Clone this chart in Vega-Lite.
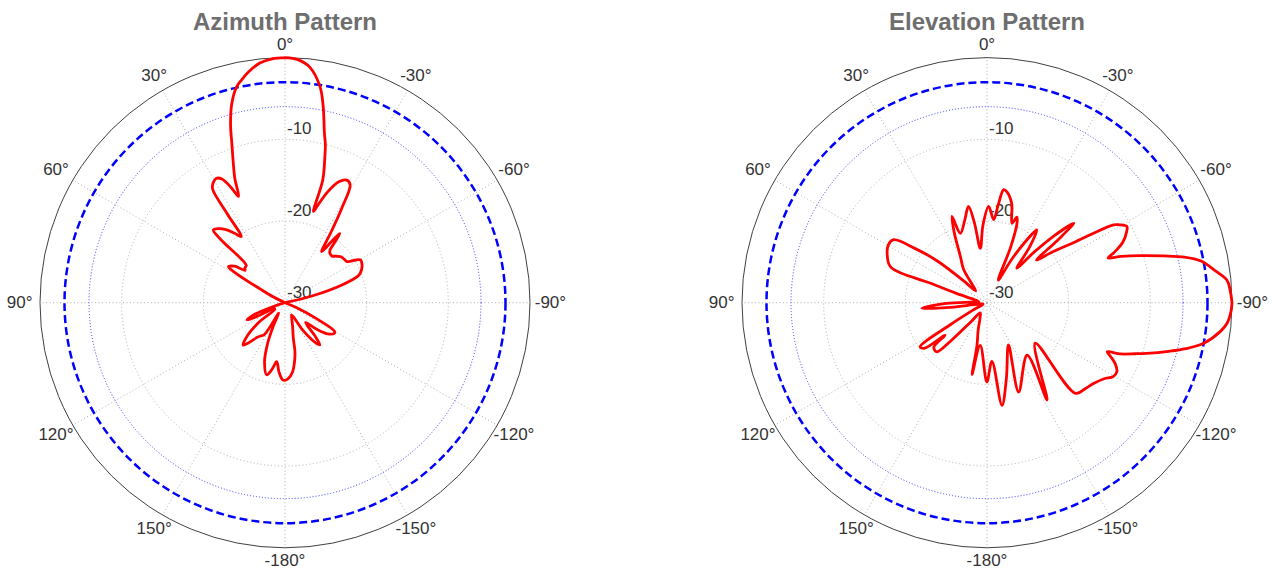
{
  "$schema": "https://vega.github.io/schema/vega-lite/v6.json",
  "padding": {"left": 0, "top": 0, "right": 0, "bottom": 0},
  "background": "white",
  "config": {"view": {"stroke": null}, "concat": {"spacing": 131}},
  "datasets": {
    "titles": [{"p": "az", "t": "Azimuth Pattern"}, {"p": "el", "t": "Elevation Pattern"}],
    "rings": [{"k": "g", "db": -20}, {"k": "g", "db": -10}, {"k": "d6", "db": -6}, {"k": "d3", "db": -3}, {"k": "o", "db": 0}],
    "spokes": [
      {"a": 0, "t": "0°"}, {"a": 30, "t": "30°"}, {"a": 60, "t": "60°"}, {"a": 90, "t": "90°"},
      {"a": 120, "t": "120°"}, {"a": 150, "t": "150°"}, {"a": 180, "t": "-180°"}, {"a": -150, "t": "-150°"},
      {"a": -120, "t": "-120°"}, {"a": -90, "t": "-90°"}, {"a": -60, "t": "-60°"}, {"a": -30, "t": "-30°"}
    ],
    "rlabels": [{"db": -30, "t": "-30"}, {"db": -20, "t": "-20"}, {"db": -10, "t": "-10"}],
    "az": [
      {"i":1,"a":0,"d":0},{"i":2,"a":3,"d":-0.1},{"i":3,"a":6,"d":-0.5},{"i":4,"a":9,"d":-1.4},{"i":5,"a":11,"d":-2.2},
      {"i":6,"a":12.6,"d":-2.9},{"i":7,"a":15,"d":-4.8},{"i":8,"a":17,"d":-7.2},{"i":9,"a":18.5,"d":-9.5},{"i":10,"a":20,"d":-11.4},
      {"i":11,"a":22,"d":-13.6},{"i":12,"a":23.6,"d":-15.8},{"i":13,"a":25,"d":-14.5},{"i":14,"a":27,"d":-13},{"i":15,"a":29,"d":-12.6},
      {"i":16,"a":31,"d":-12.9},{"i":17,"a":32.5,"d":-13.5},{"i":18,"a":33,"d":-17},{"i":19,"a":33.5,"d":-20.3},{"i":20,"a":36,"d":-19.5},
      {"i":21,"a":39,"d":-18.5},{"i":22,"a":42,"d":-17.8},{"i":23,"a":44.6,"d":-17.5},{"i":24,"a":45.5,"d":-19},{"i":25,"a":46,"d":-23.4},
      {"i":26,"a":49,"d":-23.5},{"i":27,"a":51,"d":-23.7},{"i":28,"a":54,"d":-22.4},{"i":29,"a":57.6,"d":-21.8},{"i":30,"a":59,"d":-23},
      {"i":31,"a":61,"d":-26.5},{"i":32,"a":64,"d":-28.5},{"i":33,"a":68,"d":-30},{"i":34,"a":90,"d":-30},{"i":35,"a":106,"d":-30},
      {"i":36,"a":108,"d":-28.5},{"i":37,"a":111,"d":-26},{"i":38,"a":114.3,"d":-24.9},{"i":39,"a":116,"d":-26},{"i":40,"a":119,"d":-28.5},
      {"i":41,"a":123,"d":-28.5},{"i":42,"a":127,"d":-26},{"i":43,"a":131,"d":-24},{"i":44,"a":135.4,"d":-22.7},{"i":45,"a":138,"d":-23.5},
      {"i":46,"a":141,"d":-24.5},{"i":47,"a":144,"d":-25},{"i":48,"a":147,"d":-25.3},{"i":49,"a":149,"d":-28.5},{"i":50,"a":153,"d":-27},
      {"i":51,"a":157,"d":-24.5},{"i":52,"a":161,"d":-22.3},{"i":53,"a":165.8,"d":-20.9},{"i":54,"a":169,"d":-21.7},{"i":55,"a":172,"d":-22.7},
      {"i":56,"a":175,"d":-21.5},{"i":57,"a":178,"d":-20.6},{"i":58,"a":180,"d":-20.5},{"i":59,"a":-177.5,"d":-20.7},{"i":60,"a":-174,"d":-21.4},
      {"i":61,"a":-171,"d":-22.6},{"i":62,"a":-168.5,"d":-23.9},{"i":63,"a":-166.9,"d":-25.5},{"i":64,"a":-162,"d":-27},{"i":65,"a":-156,"d":-28},
      {"i":66,"a":-151.4,"d":-28.3},{"i":67,"a":-147,"d":-26},{"i":68,"a":-143,"d":-24},{"i":69,"a":-140.4,"d":-23.3},{"i":70,"a":-138,"d":-24.5},
      {"i":71,"a":-134,"d":-26.5},{"i":72,"a":-130,"d":-25},{"i":73,"a":-126,"d":-23.5},{"i":74,"a":-122,"d":-22.9},{"i":75,"a":-120,"d":-23},
      {"i":76,"a":-117,"d":-25.5},{"i":77,"a":-113,"d":-28.5},{"i":78,"a":-108,"d":-30},{"i":79,"a":-90,"d":-30},{"i":80,"a":-80,"d":-30},
      {"i":81,"a":-76,"d":-26.5},{"i":82,"a":-72.7,"d":-22.7},{"i":83,"a":-70,"d":-20.5},{"i":84,"a":-68.6,"d":-20.1},{"i":85,"a":-64,"d":-19.5},
      {"i":86,"a":-60.3,"d":-19.4},{"i":87,"a":-57.5,"d":-20.6},{"i":88,"a":-56.4,"d":-20.9},{"i":89,"a":-54,"d":-21},{"i":90,"a":-51,"d":-21.1},
      {"i":91,"a":-48,"d":-21.5},{"i":92,"a":-45,"d":-21.9},{"i":93,"a":-42,"d":-21.8},{"i":94,"a":-40.5,"d":-21.5},{"i":95,"a":-39.3,"d":-20.2},
      {"i":96,"a":-38.4,"d":-19.2},{"i":97,"a":-37.3,"d":-20.5},{"i":98,"a":-35.7,"d":-22.3},{"i":99,"a":-33,"d":-19.5},{"i":100,"a":-31,"d":-16.5},
      {"i":101,"a":-28.9,"d":-13.5},{"i":102,"a":-26.7,"d":-13.2},{"i":103,"a":-24,"d":-13.8},{"i":104,"a":-21,"d":-15.5},{"i":105,"a":-18.5,"d":-17.5},
      {"i":106,"a":-17.3,"d":-18.3},{"i":107,"a":-17.1,"d":-14.3},{"i":108,"a":-15.5,"d":-11.8},{"i":109,"a":-14.3,"d":-10},{"i":110,"a":-13.1,"d":-8.7},
      {"i":111,"a":-11,"d":-5.5},{"i":112,"a":-9.2,"d":-3.2},{"i":113,"a":-6,"d":-1},{"i":114,"a":-3,"d":-0.2},{"i":115,"a":0,"d":0}
    ],
    "el": [
      {"i":1,"a":-90,"d":0},{"i":2,"a":-87,"d":-0.2},{"i":3,"a":-84.6,"d":-0.5},{"i":4,"a":-82,"d":-1.8},{"i":5,"a":-79,"d":-3.3},
      {"i":6,"a":-77,"d":-5.2},{"i":7,"a":-75.2,"d":-7.6},{"i":8,"a":-73,"d":-10.3},{"i":9,"a":-71,"d":-12.6},{"i":10,"a":-69.7,"d":-14.2},
      {"i":11,"a":-68.5,"d":-13.3},{"i":12,"a":-66,"d":-11.8},{"i":13,"a":-63,"d":-10.8},{"i":14,"a":-61.4,"d":-10.5},{"i":15,"a":-59.5,"d":-11.2},
      {"i":16,"a":-58.4,"d":-11.8},{"i":17,"a":-55.4,"d":-16.9},{"i":18,"a":-52,"d":-20},{"i":19,"a":-49.3,"d":-22},{"i":20,"a":-48.5,"d":-18.5},
      {"i":21,"a":-47.5,"d":-15.6},{"i":22,"a":-45,"d":-18.5},{"i":23,"a":-43,"d":-21.5},{"i":24,"a":-40.8,"d":-24.4},{"i":25,"a":-37.5,"d":-21.5},
      {"i":26,"a":-34.4,"d":-19.2},{"i":27,"a":-30,"d":-23.5},{"i":28,"a":-26.5,"d":-26.9},{"i":29,"a":-23,"d":-22.5},{"i":30,"a":-20.7,"d":-19.6},
      {"i":31,"a":-19.2,"d":-18.9},{"i":32,"a":-17.5,"d":-19.8},{"i":33,"a":-14,"d":-17.5},{"i":34,"a":-10.2,"d":-16.2},{"i":35,"a":-8.4,"d":-16},
      {"i":36,"a":-6.5,"d":-18},{"i":37,"a":-4.6,"d":-19.8},{"i":38,"a":-1,"d":-18.2},{"i":39,"a":3,"d":-20.5},{"i":40,"a":7,"d":-23.3},
      {"i":41,"a":9,"d":-20},{"i":42,"a":10.9,"d":-18},{"i":43,"a":15,"d":-19.5},{"i":44,"a":21,"d":-20.9},{"i":45,"a":22.1,"d":-18.6},
      {"i":46,"a":25,"d":-20.5},{"i":47,"a":30,"d":-23.5},{"i":48,"a":35,"d":-25},{"i":49,"a":40,"d":-27.4},{"i":50,"a":44,"d":-28},
      {"i":51,"a":47,"d":-26},{"i":52,"a":50,"d":-22},{"i":53,"a":53,"d":-19},{"i":54,"a":56,"d":-16.2},{"i":55,"a":59.6,"d":-16},
      {"i":56,"a":64,"d":-16.4},{"i":57,"a":69.6,"d":-17.4},{"i":58,"a":71,"d":-22.7},{"i":59,"a":73,"d":-26},{"i":60,"a":77,"d":-28.5},
      {"i":61,"a":84,"d":-29},{"i":62,"a":88,"d":-28},{"i":63,"a":91,"d":-25},{"i":64,"a":94.9,"d":-22},{"i":65,"a":97,"d":-25},
      {"i":66,"a":100,"d":-29},{"i":67,"a":110,"d":-29.5},{"i":68,"a":118,"d":-28},{"i":69,"a":121,"d":-24.7},{"i":70,"a":123.4,"d":-20.2},
      {"i":71,"a":126,"d":-20.5},{"i":72,"a":127.8,"d":-23.5},{"i":73,"a":130,"d":-21.5},{"i":74,"a":134.4,"d":-21.4},{"i":75,"a":136.5,"d":-23.5},
      {"i":76,"a":140,"d":-27},{"i":77,"a":146,"d":-28.5},{"i":78,"a":155,"d":-28},{"i":79,"a":162,"d":-26.5},{"i":80,"a":166.7,"d":-24.7},
      {"i":81,"a":168.3,"d":-21},{"i":82,"a":171,"d":-24.7},{"i":83,"a":179.9,"d":-20.3},{"i":84,"a":-175.2,"d":-22.8},{"i":85,"a":-171.7,"d":-17.3},
      {"i":86,"a":-165.7,"d":-20.4},{"i":87,"a":-153,"d":-24.2},{"i":88,"a":-160.5,"d":-18.4},{"i":89,"a":-142.6,"d":-21.9},{"i":90,"a":-148.3,"d":-16},
      {"i":91,"a":-130,"d":-22.3},{"i":92,"a":-135.7,"d":-14.5},{"i":93,"a":-131,"d":-14},{"i":94,"a":-127,"d":-13.6},{"i":95,"a":-123,"d":-12.9},
      {"i":96,"a":-120.4,"d":-12.1},{"i":97,"a":-117.9,"d":-12},{"i":98,"a":-115.5,"d":-12.6},{"i":99,"a":-113.5,"d":-13.5},{"i":100,"a":-112.2,"d":-14.1},
      {"i":101,"a":-111,"d":-12.5},{"i":102,"a":-109,"d":-10.8},{"i":103,"a":-107.6,"d":-9.5},{"i":104,"a":-105,"d":-7},{"i":105,"a":-103,"d":-5},
      {"i":106,"a":-100.6,"d":-3},{"i":107,"a":-97,"d":-1.2},{"i":108,"a":-94.9,"d":-0.5},{"i":109,"a":-92,"d":-0.1},{"i":110,"a":-90,"d":0}
    ]
  },
  "hconcat": [
    {
      "width": 570,
      "height": 575,
      "layer": [
        {
          "data": {"name": "rings"},
          "transform": [{"filter": "datum.k == 'g'"}, {"calculate": "0", "as": "ox"}, {"calculate": "datum.db + 30", "as": "rr"}],
          "mark": {"type": "point", "shape": "circle", "filled": false, "opacity": 1, "stroke": "#b0b0b0", "strokeWidth": 1, "strokeDash": [1, 2.5]},
          "encoding": {
            "x": {"field": "ox", "type": "quantitative", "scale": {"domain": [-34.898, 34.898], "nice": false, "zero": false}, "axis": null},
            "y": {"field": "ox", "type": "quantitative", "scale": {"domain": [-33.343, 37.065], "nice": false, "zero": false}, "axis": null},
            "size": {"field": "rr", "type": "quantitative", "scale": {"type": "pow", "exponent": 2, "domain": [0, 30], "range": [0, 240100], "zero": true}, "legend": null}
          }
        },
        {
          "data": {"name": "spokes"},
          "transform": [
            {"calculate": "0", "as": "ox"},
            {"calculate": "-30 * sin(datum.a * PI / 180)", "as": "sx"},
            {"calculate": "30 * cos(datum.a * PI / 180)", "as": "sy"}
          ],
          "mark": {"type": "rule", "stroke": "#b0b0b0", "strokeWidth": 1, "strokeDash": [1, 2.5]},
          "encoding": {
            "x": {"field": "ox", "type": "quantitative", "scale": {"domain": [-34.898, 34.898], "nice": false, "zero": false}, "axis": null},
            "y": {"field": "ox", "type": "quantitative", "scale": {"domain": [-33.343, 37.065], "nice": false, "zero": false}, "axis": null},
            "x2": {"field": "sx"},
            "y2": {"field": "sy"}
          }
        },
        {
          "data": {"name": "rings"},
          "transform": [{"filter": "datum.k == 'd6'"}, {"calculate": "0", "as": "ox"}, {"calculate": "datum.db + 30", "as": "rr"}],
          "mark": {"type": "point", "shape": "circle", "filled": false, "opacity": 1, "stroke": "#3a3aff", "strokeWidth": 1, "strokeDash": [1, 2]},
          "encoding": {
            "x": {"field": "ox", "type": "quantitative", "scale": {"domain": [-34.898, 34.898], "nice": false, "zero": false}, "axis": null},
            "y": {"field": "ox", "type": "quantitative", "scale": {"domain": [-33.343, 37.065], "nice": false, "zero": false}, "axis": null},
            "size": {"field": "rr", "type": "quantitative", "scale": {"type": "pow", "exponent": 2, "domain": [0, 30], "range": [0, 240100], "zero": true}, "legend": null}
          }
        },
        {
          "data": {"name": "rings"},
          "transform": [{"filter": "datum.k == 'd3'"}, {"calculate": "0", "as": "ox"}, {"calculate": "datum.db + 30", "as": "rr"}],
          "mark": {"type": "point", "shape": "circle", "filled": false, "opacity": 1, "stroke": "#0000ff", "strokeWidth": 2.5, "strokeDash": [8, 4]},
          "encoding": {
            "x": {"field": "ox", "type": "quantitative", "scale": {"domain": [-34.898, 34.898], "nice": false, "zero": false}, "axis": null},
            "y": {"field": "ox", "type": "quantitative", "scale": {"domain": [-33.343, 37.065], "nice": false, "zero": false}, "axis": null},
            "size": {"field": "rr", "type": "quantitative", "scale": {"type": "pow", "exponent": 2, "domain": [0, 30], "range": [0, 240100], "zero": true}, "legend": null}
          }
        },
        {
          "data": {"name": "rings"},
          "transform": [{"filter": "datum.k == 'o'"}, {"calculate": "0", "as": "ox"}, {"calculate": "datum.db + 30", "as": "rr"}],
          "mark": {"type": "point", "shape": "circle", "filled": false, "opacity": 1, "stroke": "#404040", "strokeWidth": 1},
          "encoding": {
            "x": {"field": "ox", "type": "quantitative", "scale": {"domain": [-34.898, 34.898], "nice": false, "zero": false}, "axis": null},
            "y": {"field": "ox", "type": "quantitative", "scale": {"domain": [-33.343, 37.065], "nice": false, "zero": false}, "axis": null},
            "size": {"field": "rr", "type": "quantitative", "scale": {"type": "pow", "exponent": 2, "domain": [0, 30], "range": [0, 240100], "zero": true}, "legend": null}
          }
        },
        {
          "data": {"name": "spokes"},
          "transform": [
            {"calculate": "31.6 + 0.9 * abs(sin(datum.a * PI / 180))", "as": "lr"},
            {"calculate": "-datum.lr * sin(datum.a * PI / 180)", "as": "lx"},
            {"calculate": "datum.lr * cos(datum.a * PI / 180)", "as": "ly"}
          ],
          "mark": {"type": "text", "font": "Liberation Sans", "fontSize": 17, "color": "#333333", "align": "center", "baseline": "middle"},
          "encoding": {
            "x": {"field": "lx", "type": "quantitative", "scale": {"domain": [-34.898, 34.898], "nice": false, "zero": false}, "axis": null},
            "y": {"field": "ly", "type": "quantitative", "scale": {"domain": [-33.343, 37.065], "nice": false, "zero": false}, "axis": null},
            "text": {"field": "t"}
          }
        },
        {
          "data": {"name": "rlabels"},
          "transform": [{"calculate": "0", "as": "rx"}, {"calculate": "datum.db + 30", "as": "ry"}],
          "mark": {"type": "text", "font": "Liberation Sans", "fontSize": 17, "color": "#333333", "align": "left", "baseline": "bottom", "dx": 2, "dy": -1},
          "encoding": {
            "x": {"field": "rx", "type": "quantitative", "scale": {"domain": [-34.898, 34.898], "nice": false, "zero": false}, "axis": null},
            "y": {"field": "ry", "type": "quantitative", "scale": {"domain": [-33.343, 37.065], "nice": false, "zero": false}, "axis": null},
            "text": {"field": "t"}
          }
        },
        {
          "data": {"name": "titles"},
          "transform": [{"filter": "datum.p == 'az'"}, {"calculate": "0", "as": "tx"}, {"calculate": "33.45", "as": "ty"}],
          "mark": {"type": "text", "font": "Liberation Sans", "fontSize": 24, "fontWeight": "bold", "color": "#6e6e6e", "align": "center", "baseline": "alphabetic"},
          "encoding": {
            "x": {"field": "tx", "type": "quantitative", "scale": {"domain": [-34.898, 34.898], "nice": false, "zero": false}, "axis": null},
            "y": {"field": "ty", "type": "quantitative", "scale": {"domain": [-33.343, 37.065], "nice": false, "zero": false}, "axis": null},
            "text": {"field": "t"}
          }
        },
        {
          "data": {"name": "az"},
          "transform": [
            {"calculate": "max(0, datum.d + 30)", "as": "rr"},
            {"calculate": "-datum.rr * sin(datum.a * PI / 180)", "as": "px"},
            {"calculate": "datum.rr * cos(datum.a * PI / 180)", "as": "py"}
          ],
          "mark": {"type": "line", "stroke": "#ff0000", "strokeWidth": 2.8, "strokeJoin": "round", "strokeCap": "round", "interpolate": "catmull-rom"},
          "encoding": {
            "x": {"field": "px", "type": "quantitative", "scale": {"domain": [-34.898, 34.898], "nice": false, "zero": false}, "axis": null},
            "y": {"field": "py", "type": "quantitative", "scale": {"domain": [-33.343, 37.065], "nice": false, "zero": false}, "axis": null},
            "order": {"field": "i", "type": "quantitative"}
          }
        }
      ]
    },
    {
      "width": 572,
      "height": 575,
      "layer": [
        {
          "data": {"name": "rings"},
          "transform": [{"filter": "datum.k == 'g'"}, {"calculate": "0", "as": "ox"}, {"calculate": "datum.db + 30", "as": "rr"}],
          "mark": {"type": "point", "shape": "circle", "filled": false, "opacity": 1, "stroke": "#b0b0b0", "strokeWidth": 1, "strokeDash": [1, 2.5]},
          "encoding": {
            "x": {"field": "ox", "type": "quantitative", "scale": {"domain": [-35.02, 35.02], "nice": false, "zero": false}, "axis": null},
            "y": {"field": "ox", "type": "quantitative", "scale": {"domain": [-33.343, 37.065], "nice": false, "zero": false}, "axis": null},
            "size": {"field": "rr", "type": "quantitative", "scale": {"type": "pow", "exponent": 2, "domain": [0, 30], "range": [0, 240100], "zero": true}, "legend": null}
          }
        },
        {
          "data": {"name": "spokes"},
          "transform": [
            {"calculate": "0", "as": "ox"},
            {"calculate": "-30 * sin(datum.a * PI / 180)", "as": "sx"},
            {"calculate": "30 * cos(datum.a * PI / 180)", "as": "sy"}
          ],
          "mark": {"type": "rule", "stroke": "#b0b0b0", "strokeWidth": 1, "strokeDash": [1, 2.5]},
          "encoding": {
            "x": {"field": "ox", "type": "quantitative", "scale": {"domain": [-35.02, 35.02], "nice": false, "zero": false}, "axis": null},
            "y": {"field": "ox", "type": "quantitative", "scale": {"domain": [-33.343, 37.065], "nice": false, "zero": false}, "axis": null},
            "x2": {"field": "sx"},
            "y2": {"field": "sy"}
          }
        },
        {
          "data": {"name": "rings"},
          "transform": [{"filter": "datum.k == 'd6'"}, {"calculate": "0", "as": "ox"}, {"calculate": "datum.db + 30", "as": "rr"}],
          "mark": {"type": "point", "shape": "circle", "filled": false, "opacity": 1, "stroke": "#3a3aff", "strokeWidth": 1, "strokeDash": [1, 2]},
          "encoding": {
            "x": {"field": "ox", "type": "quantitative", "scale": {"domain": [-35.02, 35.02], "nice": false, "zero": false}, "axis": null},
            "y": {"field": "ox", "type": "quantitative", "scale": {"domain": [-33.343, 37.065], "nice": false, "zero": false}, "axis": null},
            "size": {"field": "rr", "type": "quantitative", "scale": {"type": "pow", "exponent": 2, "domain": [0, 30], "range": [0, 240100], "zero": true}, "legend": null}
          }
        },
        {
          "data": {"name": "rings"},
          "transform": [{"filter": "datum.k == 'd3'"}, {"calculate": "0", "as": "ox"}, {"calculate": "datum.db + 30", "as": "rr"}],
          "mark": {"type": "point", "shape": "circle", "filled": false, "opacity": 1, "stroke": "#0000ff", "strokeWidth": 2.5, "strokeDash": [8, 4]},
          "encoding": {
            "x": {"field": "ox", "type": "quantitative", "scale": {"domain": [-35.02, 35.02], "nice": false, "zero": false}, "axis": null},
            "y": {"field": "ox", "type": "quantitative", "scale": {"domain": [-33.343, 37.065], "nice": false, "zero": false}, "axis": null},
            "size": {"field": "rr", "type": "quantitative", "scale": {"type": "pow", "exponent": 2, "domain": [0, 30], "range": [0, 240100], "zero": true}, "legend": null}
          }
        },
        {
          "data": {"name": "rings"},
          "transform": [{"filter": "datum.k == 'o'"}, {"calculate": "0", "as": "ox"}, {"calculate": "datum.db + 30", "as": "rr"}],
          "mark": {"type": "point", "shape": "circle", "filled": false, "opacity": 1, "stroke": "#404040", "strokeWidth": 1},
          "encoding": {
            "x": {"field": "ox", "type": "quantitative", "scale": {"domain": [-35.02, 35.02], "nice": false, "zero": false}, "axis": null},
            "y": {"field": "ox", "type": "quantitative", "scale": {"domain": [-33.343, 37.065], "nice": false, "zero": false}, "axis": null},
            "size": {"field": "rr", "type": "quantitative", "scale": {"type": "pow", "exponent": 2, "domain": [0, 30], "range": [0, 240100], "zero": true}, "legend": null}
          }
        },
        {
          "data": {"name": "spokes"},
          "transform": [
            {"calculate": "31.6 + 0.9 * abs(sin(datum.a * PI / 180))", "as": "lr"},
            {"calculate": "-datum.lr * sin(datum.a * PI / 180)", "as": "lx"},
            {"calculate": "datum.lr * cos(datum.a * PI / 180)", "as": "ly"}
          ],
          "mark": {"type": "text", "font": "Liberation Sans", "fontSize": 17, "color": "#333333", "align": "center", "baseline": "middle"},
          "encoding": {
            "x": {"field": "lx", "type": "quantitative", "scale": {"domain": [-35.02, 35.02], "nice": false, "zero": false}, "axis": null},
            "y": {"field": "ly", "type": "quantitative", "scale": {"domain": [-33.343, 37.065], "nice": false, "zero": false}, "axis": null},
            "text": {"field": "t"}
          }
        },
        {
          "data": {"name": "rlabels"},
          "transform": [{"calculate": "0", "as": "rx"}, {"calculate": "datum.db + 30", "as": "ry"}],
          "mark": {"type": "text", "font": "Liberation Sans", "fontSize": 17, "color": "#333333", "align": "left", "baseline": "bottom", "dx": 2, "dy": -1},
          "encoding": {
            "x": {"field": "rx", "type": "quantitative", "scale": {"domain": [-35.02, 35.02], "nice": false, "zero": false}, "axis": null},
            "y": {"field": "ry", "type": "quantitative", "scale": {"domain": [-33.343, 37.065], "nice": false, "zero": false}, "axis": null},
            "text": {"field": "t"}
          }
        },
        {
          "data": {"name": "titles"},
          "transform": [{"filter": "datum.p == 'el'"}, {"calculate": "0", "as": "tx"}, {"calculate": "33.45", "as": "ty"}],
          "mark": {"type": "text", "font": "Liberation Sans", "fontSize": 24, "fontWeight": "bold", "color": "#6e6e6e", "align": "center", "baseline": "alphabetic"},
          "encoding": {
            "x": {"field": "tx", "type": "quantitative", "scale": {"domain": [-35.02, 35.02], "nice": false, "zero": false}, "axis": null},
            "y": {"field": "ty", "type": "quantitative", "scale": {"domain": [-33.343, 37.065], "nice": false, "zero": false}, "axis": null},
            "text": {"field": "t"}
          }
        },
        {
          "data": {"name": "el"},
          "transform": [
            {"calculate": "max(0, datum.d + 30)", "as": "rr"},
            {"calculate": "-datum.rr * sin(datum.a * PI / 180)", "as": "px"},
            {"calculate": "datum.rr * cos(datum.a * PI / 180)", "as": "py"}
          ],
          "mark": {"type": "line", "stroke": "#ff0000", "strokeWidth": 2.8, "strokeJoin": "round", "strokeCap": "round", "interpolate": "catmull-rom"},
          "encoding": {
            "x": {"field": "px", "type": "quantitative", "scale": {"domain": [-35.02, 35.02], "nice": false, "zero": false}, "axis": null},
            "y": {"field": "py", "type": "quantitative", "scale": {"domain": [-33.343, 37.065], "nice": false, "zero": false}, "axis": null},
            "order": {"field": "i", "type": "quantitative"}
          }
        }
      ]
    }
  ]
}
